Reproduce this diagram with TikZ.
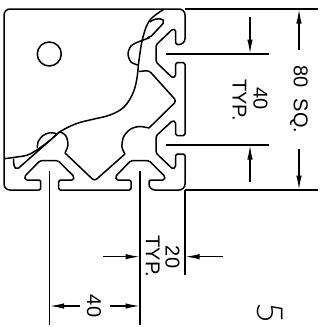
\documentclass[tikz,border=0pt]{standalone}
\usepackage{fontspec}
\setmainfont{Liberation Sans}
\newfontfamily\thinfont{Lato Light}
\usetikzlibrary{arrows.meta}
\begin{document}
\begin{tikzpicture}[
	x=1pt, y=-1pt,
	profile/.style={draw=black, line width=1.5pt, line join=round},
	dimline/.style={draw=black, line width=1.45pt},
	dimarrow/.style={draw=black, line width=1.2pt, -{Latex[length=14pt,width=5.5pt]}},
	dimtext/.style={rotate=-90, inner sep=0pt, font=\fontsize{20}{20}\selectfont},
	]
	\useasboundingbox (0,0) rectangle (321,327);
	%Outline
	\draw[profile, rounded corners=1.5pt]
		(185,44.5) -- (175.7,44.5) -- (175.7,30) -- (172.7,29) -- (156,45) -- (156,62) -- (172.7,78) -- (175.7,76) -- (175.7,62.7) -- (185,62.7)
		-- (185,135.5) -- (175.7,135.5) -- (175.7,122) -- (172.7,120.5) -- (156,136) -- (156,153) -- (172.7,169) -- (175.7,167) -- (175.7,154) -- (185,154)
		[rounded corners=6pt] -- (185,190) -- (149,190) [rounded corners=1.5pt] -- (149,180) -- (164.5,180) -- (165,176.5) -- (149,160.7) -- (130.7,160.7) -- (115.5,176.5) -- (116.5,180) -- (131,180) -- (131,190)
		-- (58.7,190) -- (58.7,180) -- (73.5,180) -- (74,176.5) -- (58,160.7) -- (40,160.7) -- (24.5,176.5) -- (25.5,180) -- (40.7,180) -- (40.7,190)
		[rounded corners=6pt] -- (4,190) -- (4,9) -- (185,9) -- cycle;
	%Hole
	\node[circle, draw=black, line width=1.5pt, minimum size=24pt, inner sep=0pt] (hole) at (49.3,54) {};
	%Web
	\draw[profile, rounded corners=3pt] (65,153) -- (94.5,181) -- (125,154);
	\draw[profile] plot[smooth] coordinates {(125,154) (122,147) (123.5,137) (130,129.5) (139,126.5) (149,128)};
	\draw[profile, rounded corners=3pt] (149,128) -- (176.5,101) -- (149,70.5) -- (139,71.5);
	\draw[profile] plot[smooth] coordinates {(138,65) (131,62) (128,54) (131,46) (138,42)};
	\draw[profile] (138,42) -- (150,37.5);
	\draw[profile, rounded corners=2pt] (147,37.5) -- (150,37.5) -- (164.5,22) -- (162,18.5) -- (153,19.5) -- (150,22);
	\draw[profile] plot[smooth] coordinates {(60,131.5) (66,136) (68,145) (65,153)};
	\draw[profile] plot[smooth] coordinates {(37.5,148) (38,142) (43,135.5) (50,132.7) (56,133.5)};
	\draw[profile, rounded corners=2pt] (13.5,158.7) -- (14,167) -- (17,169.5) -- (60,131.5);
	%Break line
	\draw[profile] plot[smooth, tension=0.6] coordinates {(4,158.7) (16.7,157) (30,154) (48,142) (60,131.7) (76.7,123.5) (92,119.5) (110,115) (124,107) (133,93) (137,78) (139,60) (143,37) (150,20) (164,9.3)};
	%Nodes
	\node[dimtext] (t80)  at (299,99.5)  {80\ \ SQ.};
	\node[dimtext] (t40)  at (260.5,99)  {40};
	\node[dimtext] (ttyp) at (239.5,100) {TYP.};
	\node[dimtext] (t20)  at (172.5,257) {20};
	\node[dimtext] (ttyq) at (152.7,256.5) {TYP.};
	\node[dimtext] (t40b) at (94,306)    {40};
	\node[rotate=-90, inner sep=0pt, font=\thinfont\fontsize{36}{36}\selectfont] (t5) at (270,312.5) {5};
	%Lines
	\draw[dimline] (185,9) -- (318,9);
	\draw[dimline] (185,190) -- (318,190);
	\draw[dimline] (165.7,54) -- (269,54);
	\draw[dimline] (165.7,145) -- (269,145);
	\draw[dimline] (49.3,171) -- (49.3,325);
	\draw[dimline] (140,171) -- (140,325);
	\draw[dimline] (185,190) -- (185,275);
	%Arrows
	\draw[dimarrow] (299,50) -- (299,9.5);
	\draw[dimarrow] (299,149) -- (299,189.5);
	\draw[dimarrow] (250,17) -- (250,53.5);
	\draw[dimarrow] (250,181.5) -- (250,145.5);
	\draw[dimarrow] (103,256.7) -- (139.5,256.7);
	\draw[dimarrow] (222.5,256.7) -- (185.5,256.7);
	\draw[dimarrow] (80,306) -- (50,306);
	\draw[dimarrow] (110,306) -- (139.5,306);
\end{tikzpicture}
\end{document}
